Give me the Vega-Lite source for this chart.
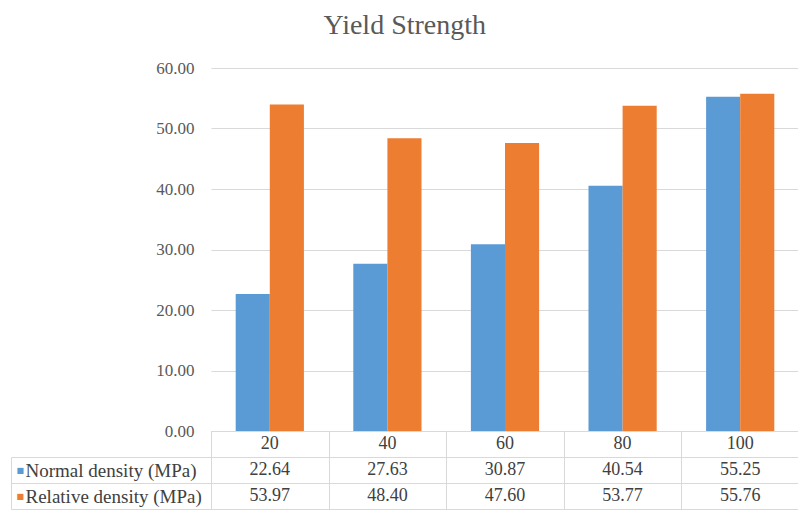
{
  "$schema": "https://vega.github.io/schema/vega-lite/v6.json",
  "padding": {"left": 10, "top": 12, "right": 0, "bottom": 3},
  "background": "white",
  "title": {
    "text": "Yield Strength",
    "font": "Liberation Serif, 'Times New Roman', serif",
    "fontSize": 28,
    "fontWeight": "normal",
    "color": "#595959",
    "anchor": "middle",
    "offset": 19
  },
  "data": {
    "values": [
      {"cat": 20, "series": "Normal density (MPa)", "value": 22.64},
      {"cat": 40, "series": "Normal density (MPa)", "value": 27.63},
      {"cat": 60, "series": "Normal density (MPa)", "value": 30.87},
      {"cat": 80, "series": "Normal density (MPa)", "value": 40.54},
      {"cat": 100, "series": "Normal density (MPa)", "value": 55.25},
      {"cat": 20, "series": "Relative density (MPa)", "value": 53.97},
      {"cat": 40, "series": "Relative density (MPa)", "value": 48.40},
      {"cat": 60, "series": "Relative density (MPa)", "value": 47.60},
      {"cat": 80, "series": "Relative density (MPa)", "value": 53.77},
      {"cat": 100, "series": "Relative density (MPa)", "value": 55.76}
    ]
  },
  "spacing": 0,
  "bounds": "flush",
  "resolve": {"scale": {"x": "independent", "y": "independent"}},
  "vconcat": [
    {
      "width": 588,
      "height": 363,
      "mark": {"type": "bar"},
      "encoding": {
        "x": {
          "field": "cat",
          "type": "ordinal",
          "scale": {"paddingInner": 0.42, "paddingOuter": 0.21},
          "axis": {"labels": false, "ticks": false, "domain": true, "domainColor": "#d9d9d9", "title": null, "grid": false}
        },
        "xOffset": {"field": "series", "type": "nominal"},
        "y": {
          "field": "value",
          "type": "quantitative",
          "scale": {"domain": [0, 60]},
          "axis": {
            "values": [0, 10, 20, 30, 40, 50, 60],
            "format": ".2f",
            "title": null,
            "grid": true,
            "gridColor": "#d9d9d9",
            "domain": false,
            "ticks": false,
            "labelFontSize": 17,
            "labelColor": "#595959",
            "labelPadding": 17
          }
        },
        "color": {
          "field": "series",
          "type": "nominal",
          "scale": {"range": ["#5B9BD5", "#ED7D31"]},
          "legend": null
        }
      }
    },
    {
      "width": 588,
      "height": 78,
      "resolve": {"scale": {"y": "independent"}},
      "layer": [
        {
          "layer": [
            {
              "mark": {"type": "text", "font": "Liberation Serif, 'Times New Roman', serif", "fontSize": 18, "color": "#404040"},
              "encoding": {
                "x": {
                  "field": "cat",
                  "type": "ordinal",
                  "scale": {"paddingInner": 0, "paddingOuter": 0},
                  "axis": {"labels": false, "ticks": false, "domain": false, "title": null, "grid": true, "gridColor": "#d9d9d9", "tickBand": "extent"}
                },
                "y": {
                  "field": "series",
                  "type": "nominal",
                  "scale": {"domain": ["hdr", "Normal density (MPa)", "Relative density (MPa)"], "paddingInner": 0, "paddingOuter": 0},
                  "axis": {
                    "title": null,
                    "orient": "left",
                    "domain": false,
                    "grid": true,
                    "gridColor": "#d9d9d9",
                    "tickBand": "extent",
                    "ticks": false,
                    "labelExpr": "datum.value == 'hdr' ? '' : datum.value",
                    "labelAlign": "left",
                    "labelPadding": 186,
                    "labelFontSize": 19,
                    "labelColor": "#404040"
                  }
                },
                "text": {"field": "value", "type": "quantitative", "format": ".2f"}
              }
            },
            {
              "transform": [{"filter": "datum.series == 'Normal density (MPa)'"}],
              "mark": {"type": "text", "font": "Liberation Serif, 'Times New Roman', serif", "fontSize": 18, "color": "#404040"},
              "encoding": {
                "x": {"field": "cat", "type": "ordinal"},
                "y": {"datum": "hdr", "type": "nominal"},
                "text": {"field": "cat", "type": "ordinal"}
              }
            }
          ]
        },
        {
          "mark": {"type": "text"},
          "encoding": {
            "y": {
              "field": "series",
              "type": "nominal",
              "scale": {"domain": ["hdr", "Normal density (MPa)", "Relative density (MPa)"], "paddingInner": 0, "paddingOuter": 0},
              "axis": {
                "title": null,
                "orient": "left",
                "domain": false,
                "grid": false,
                "ticks": true,
                "tickSize": 200,
                "tickColor": "#d9d9d9",
                "tickOffset": 13,
                "labelOffset": -13,
                "labelExpr": "datum.value == 'hdr' ? '' : '■'",
                "labelAlign": "left",
                "labelPadding": -5,
                "labelFontSize": 8,
                "labelFont": "DejaVu Sans",
                "labelColor": {"condition": {"test": "datum.value == 'Normal density (MPa)'", "value": "#5B9BD5"}, "value": "#ED7D31"}
              }
            },
            "text": {"value": ""}
          }
        },
        {
          "mark": {"type": "text"},
          "encoding": {
            "y": {
              "field": "series",
              "type": "nominal",
              "scale": {"domain": ["hdr", "Normal density (MPa)", "Relative density (MPa)"], "paddingInner": 0, "paddingOuter": 0},
              "axis": {
                "title": null,
                "orient": "left",
                "offset": 200,
                "domain": true,
                "domainColor": "#d9d9d9",
                "domainDash": [0, 26, 52],
                "grid": false,
                "ticks": false,
                "labels": false
              }
            },
            "text": {"value": ""}
          }
        }
      ]
    }
  ],
  "config": {
    "view": {"stroke": null},
    "axis": {"labelFont": "Liberation Serif, 'Times New Roman', serif"}
  }
}
